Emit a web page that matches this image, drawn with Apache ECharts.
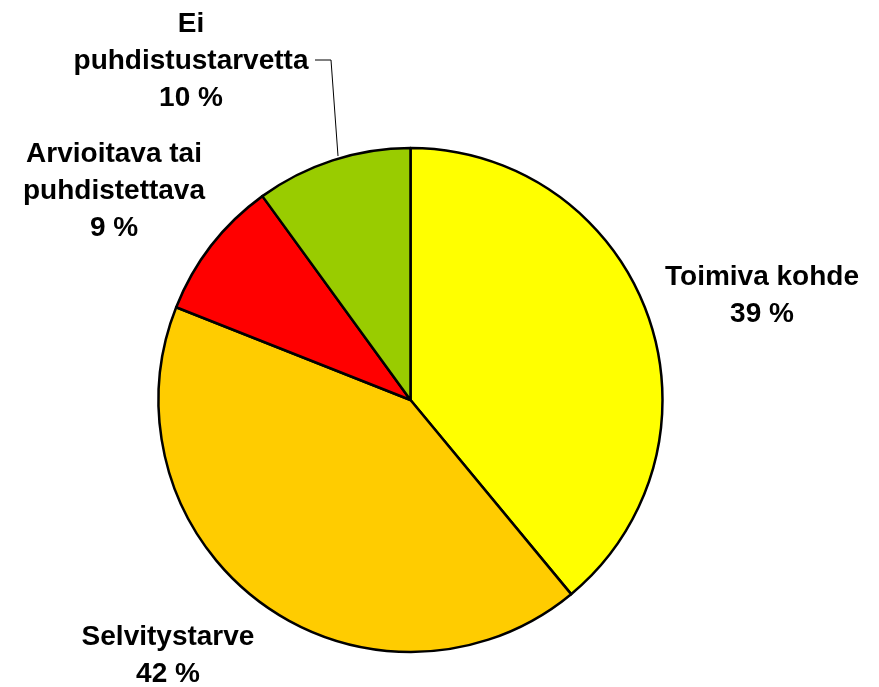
<!DOCTYPE html>
<html>
<head>
<meta charset="utf-8">
<script src="https://cdn.jsdelivr.net/npm/echarts@6/dist/echarts.min.js"></script>
<style>
    html, body { margin: 0; padding: 0; background: #fff; }
    #chart { width: 879px; height: 687px; }
</style>
</head>
<body>
<div id="chart"></div>
<script>
// data, clockwise from 12 o'clock
const categories = ['Toimiva kohde', 'Selvitystarve', 'Arvioitava tai\npuhdistettava', 'Ei\npuhdistustarvetta']
const values = [39, 42, 9, 10]
const colors = ['#FFFF00', '#FFCC00', '#FF0000', '#99CC00']

// label anchors (centre of text block), same order as data
const labelPos = [[762, 296], [168, 656], [114, 191], [191, 61]]
const leaderLine = [[315, 60], [331, 60], [338, 156]]

const chart = echarts.init(document.getElementById('chart'), null, { renderer: 'canvas' })

chart.setOption({
    backgroundColor: '#fff',
    animation: false,
    series: [{
        type: 'pie',
        center: [410.5, 400],
        radius: 252,
        startAngle: 90,
        clockwise: true,
        avoidLabelOverlap: false,
        itemStyle: {
            borderColor: '#000',
            borderWidth: 2.5
        },
        label: {
            show: true,
            position: 'outside',
            color: '#000',
            fontFamily: 'Liberation Sans, Arial, sans-serif',
            fontWeight: 'bold',
            fontSize: 28,
            lineHeight: 37,
            align: 'center',
            formatter: function (p) {
                return p.name + '\n' + p.value + ' %'
            }
        },
        labelLine: {
            show: false,
            lineStyle: { color: '#000', width: 1 }
        },
        labelLayout: function (params) {
            const p = labelPos[params.dataIndex]
            const out = { x: p[0], y: p[1], align: 'center', verticalAlign: 'middle' }
            if (params.dataIndex === 3) {
                out.labelLinePoints = leaderLine
            }
            return out
        },
        emphasis: { disabled: true },
        data: categories.map(function (name, i) {
            const item = {
                name: name,
                value: values[i],
                itemStyle: { color: colors[i] }
            }
            if (i === 3) {
                item.labelLine = { show: true, length: 10, length2: 10 }
            }
            return item
        })
    }]
})
</script>
</body>
</html>
